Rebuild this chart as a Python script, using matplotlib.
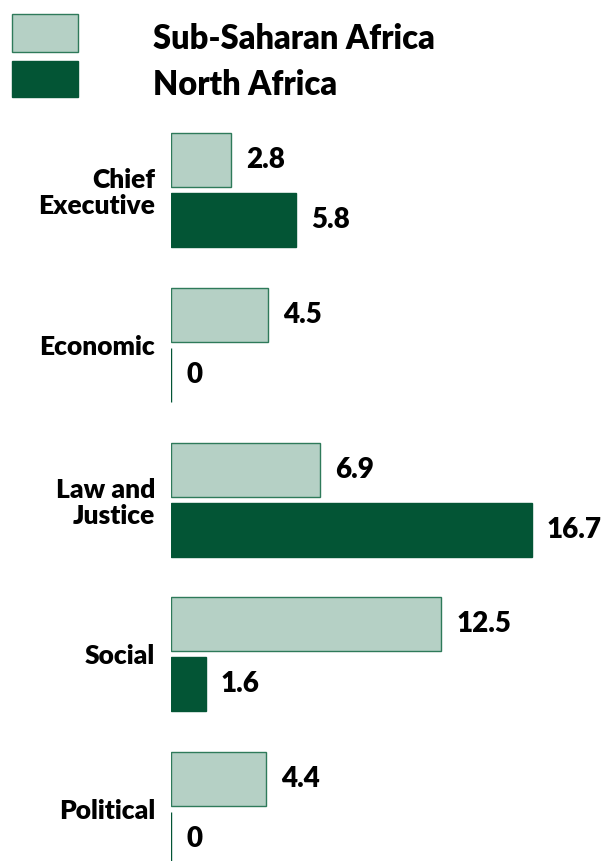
import numpy as np
import matplotlib
matplotlib.use("Agg")
import matplotlib.pyplot as plt
from matplotlib.patches import Rectangle

plt.rcParams['font.family'] = ['Lato', 'DejaVu Sans']
plt.rcParams['font.weight'] = 'heavy'

categories = ["Chief\nExecutive", "Economic", "Law and\nJustice", "Social", "Political"]
sub_saharan = [2.8, 4.5, 6.9, 12.5, 4.4]
north_africa = [5.8, 0, 16.7, 1.6, 0]
value_labels_ss = ["2.8", "4.5", "6.9", "12.5", "4.4"]
value_labels_na = ["5.8", "0", "16.7", "1.6", "0"]
series_names = ["Sub-Saharan Africa", "North Africa"]

light = "#b5d0c5"
light_edge = "#2e7a5a"
dark = "#035535"

W, H = 602, 861
fig = plt.figure(figsize=(W / 100, H / 100), dpi=100)
left_px = 171
ax = fig.add_axes([left_px / W, 0, 1 - left_px / W, 1])

pitch = 154.75
top_center = 190
ax.set_ylim((H - top_center) / pitch, -top_center / pitch)
ax.set_xlim(0, (W - left_px) / 21.6)

y = np.arange(len(categories))
off = 30 / pitch
bh = 54 / pitch
ax.barh(y - off, sub_saharan, height=bh, color=light, edgecolor=light_edge, linewidth=1)
ax.barh(y + off, north_africa, height=bh, color=dark, edgecolor=dark, linewidth=1)

gap = 0.7
for yi, v, s in zip(y, sub_saharan, value_labels_ss):
    ax.text(v + gap, yi - off, s, va='center', ha='left', fontsize=20, fontweight='heavy')
for yi, v, s in zip(y, north_africa, value_labels_na):
    ax.text(v + gap, yi + off, s, va='center', ha='left', fontsize=20, fontweight='heavy')

ax.set_yticks(y)
ax.set_yticklabels(categories, fontsize=19, fontweight='heavy', multialignment='right',
                   linespacing=1.1)
ax.tick_params(axis='y', length=0, pad=11.5)
ax.set_xticks([])
for sp in ax.spines.values():
    sp.set_visible(False)

# legend drawn by hand in figure pixels
def fx(px):
    return px / W

def fy(px):
    return 1 - px / H

legend_rows = [(14, 52, light, light_edge), (61, 97, dark, dark)]
for (t, b, fc, ec), name in zip(legend_rows, series_names):
    fig.add_artist(Rectangle((fx(12), fy(b)), fx(78) - fx(12), fy(t) - fy(b),
                             facecolor=fc, edgecolor=ec, linewidth=1,
                             transform=fig.transFigure))
    fig.text(fx(153), fy((t + b) / 2 + 6), name, ha='left', va='center',
             fontsize=23.5, fontweight='heavy')

fig.savefig("out.png", dpi=100)
